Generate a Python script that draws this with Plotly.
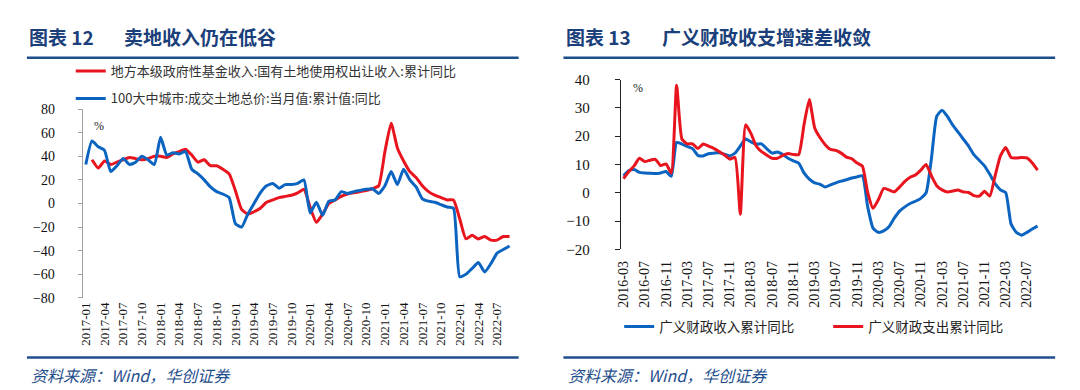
import plotly.graph_objects as go
import pandas as pd

W, H = 1080, 390

# ---------------- data: left chart (monthly, 2017-01 .. 2022-09) ----------------
left_months = [p.strftime("%Y-%m") for p in pd.period_range("2017-01", "2022-09", freq="M")]
left_tick_labels = ["2017-01", "2017-04", "2017-07", "2017-10", "2018-01", "2018-04", "2018-07",
                    "2018-10", "2019-01", "2019-04", "2019-07", "2019-10", "2020-01", "2020-04",
                    "2020-07", "2020-10", "2021-01", "2021-04", "2021-07", "2021-10", "2022-01",
                    "2022-04", "2022-07"]
left_land_revenue = [None, 37, 30, 36, 33, 35, 37, 39, 38, 37,
                     38, 40, 40, 39, 42, 44, 46, 41, 35, 37,
                     32, 32, 29, 25, 11, -5, -9, -7, -4, 1,
                     3, 5, 6, 7, 9, 12, -3, -16, -9, 0,
                     3, 6, 8, 9, 10, 11, 12.5, 15, 44, 68,
                     47, 36, 27, 22, 15, 10, 7, 5, 3, 3,
                     -13, -30, -27, -30, -28, -31, -31, -28, -28]
left_city_land = [33, 53, 48, 45, 27, 32, 38, 33, 35, 40,
                  37, 33, 56, 41, 43, 42, 44, 29, 25, 20,
                  14, 10, 8, 5, -17, -20, -9, 0, 9, 15,
                  17, 13, 16, 16, 17, 20, -8, 1, -10, 2,
                  3, 10, 8.5, 10, 11, 12, 12.5, 8.5, 15, 27,
                  16, 29, 20, 14, 4, 2, 1, -1, -3, -4,
                  -62, -60, -55, -50, -58, -51, -42, -39, -36]

# ---------------- data: right chart (monthly, 2016-03 .. 2022-09) ----------------
right_months = [p.strftime("%Y-%m") for p in pd.period_range("2016-03", "2022-09", freq="M")]
right_tick_labels = ["2016-03", "2016-07", "2016-11", "2017-03", "2017-07", "2017-11", "2018-03",
                     "2018-07", "2018-11", "2019-03", "2019-07", "2019-11", "2020-03", "2020-07",
                     "2020-11", "2021-03", "2021-07", "2021-11", "2022-03", "2022-07"]
right_revenue = [6, 7.8, 8.2, 7.2, 7, 6.9, 6.8, 7, 7.5, 5.8,
                 17.8, 17.2, 16.4, 15.6, 13.2, 13, 13.8, 14, 14.1, 13.6,
                 13, 14, 16.5, 19, 18, 17.2, 17.3, 15.5, 14, 14.4,
                 13.5, 12.2, 11.3, 10.5, 7, 4.8, 3.5, 3, 2, 2.8,
                 3.5, 4.1, 4.6, 5.2, 5.6, 6, -5, -12.5, -14, -13.5,
                 -12, -9, -6.5, -5, -3.8, -3, -2, 0, 12, 27,
                 29.2, 27, 24, 21.5, 19, 16.5, 13.5, 11.5, 9.5, 6.5,
                 3.2, 1, 0, -11, -14, -15, -14, -12.8, -11.8]
right_expenditure = [5, 7.5, 9.5, 12.2, 11, 11.5, 11.8, 9.6, 10.2, 7,
                     38, 19, 17.3, 17.3, 15.6, 17.2, 16.5, 15.7, 14.6, 13.4,
                     11.9, 12.5, -7.6, 24, 21, 16.5, 14.5, 13.3, 12.2, 12.2,
                     13.2, 13.9, 13.5, 13.5, 24, 33, 23, 19.5, 17, 15.3,
                     15, 14, 12.6, 12, 10.5, 9.4, 0, -5.5, -2.5, 1.5,
                     1, 0.3, 2, 4, 5.5, 6.3, 8, 10, 6, 2.5,
                     1, 0.3, 0.6, 1, 0.3, 0.1, -1, -1.2, 0.5, -1.2,
                     6, 13, 16, 12.5, 12.3, 12.5, 12.3, 10.5, 8]

left_names = ["地方本级政府性基金收入:国有土地使用权出让收入:累计同比",
              "100大中城市:成交土地总价:当月值:累计值:同比"]
right_names = ["广义财政收入累计同比", "广义财政支出累计同比"]

RED = "#E8141E"
BLUE = "#0B64C0"
NAVY = "#1B3F7A"
RULE = "#1F4E8C"
CJK = "Noto Sans CJK SC"
SERIF = "Liberation Serif, Times New Roman, serif"


def px_x(p):
    return p / W


def px_y(p):
    return 1 - p / H


lx = list(range(len(left_months)))
rx = list(range(len(right_months)))

fig = go.Figure()
fig.add_trace(go.Scatter(x=lx, y=left_land_revenue, xaxis="x", yaxis="y", mode="lines",
                         name=left_names[0], text=left_months, connectgaps=True,
                         line=dict(color=RED, width=3, shape="spline", smoothing=0.5),
                         legend="legend"))
fig.add_trace(go.Scatter(x=lx, y=left_city_land, xaxis="x", yaxis="y", mode="lines",
                         name=left_names[1], text=left_months,
                         line=dict(color=BLUE, width=3, shape="spline", smoothing=0.5),
                         legend="legend2"))
fig.add_trace(go.Scatter(x=rx, y=right_revenue, xaxis="x2", yaxis="y2", mode="lines",
                         name=right_names[0], text=right_months,
                         line=dict(color=BLUE, width=3, shape="spline", smoothing=0.5),
                         legend="legend3"))
fig.add_trace(go.Scatter(x=rx, y=right_expenditure, xaxis="x2", yaxis="y2", mode="lines",
                         name=right_names[1], text=right_months,
                         line=dict(color=RED, width=3, shape="spline", smoothing=0.5),
                         legend="legend4"))

L_GRAY = "#A0A0A0"
R_DARK = "#222222"

left_dom_x = [px_x(70), px_x(502)]
left_dom_y = [px_y(294), px_y(97)]
right_dom_x = [px_x(610.7), px_x(1032)]
right_dom_y = [px_y(243.3), px_y(66.3)]

axis_common = dict(showgrid=False, zeroline=False)

fig.update_layout(
    width=W, height=H, autosize=False,
    margin=dict(l=0, r=0, t=0, b=0),
    paper_bgcolor="white", plot_bgcolor="white",
    showlegend=True,
    # left chart
    xaxis=dict(domain=left_dom_x, range=[-0.5, len(lx) - 0.5], anchor="y",
               tickmode="array", tickvals=list(range(0, len(lx), 3)), ticktext=left_tick_labels,
               tickangle=-90, ticks="", showline=False, ticklabelstandoff=1,
               tickfont=dict(family=SERIF, size=13, color="#111"), **axis_common),
    yaxis=dict(domain=left_dom_y, range=[-80, 80], anchor="x", dtick=20, tick0=0,
               ticks="outside", ticklen=4, tickcolor=L_GRAY, showline=True, linecolor=L_GRAY,
               linewidth=1, ticklabelstandoff=20,
               tickfont=dict(family=SERIF, size=14, color="#111"), **axis_common),
    xaxis3=dict(overlaying="x", anchor="free", position=px_y(195.5),
                range=[-0.5, len(lx) - 0.5], tickmode="array",
                tickvals=[k - 0.5 for k in range(0, len(lx) + 1, 3)],
                ticks="outside", ticklen=5, tickcolor=L_GRAY, showline=True,
                linecolor=L_GRAY, linewidth=1, showticklabels=False, **axis_common),
    # right chart
    xaxis2=dict(domain=right_dom_x, range=[-0.5, len(rx) - 0.5], anchor="y2",
                tickmode="array", tickvals=list(range(0, len(rx), 4)), ticktext=right_tick_labels,
                tickangle=-90, ticks="", showline=False, ticklabelstandoff=8,
                tickfont=dict(family=SERIF, size=14, color="#111"), **axis_common),
    yaxis2=dict(domain=right_dom_y, range=[-20, 40], anchor="x2", dtick=10, tick0=0,
                ticks="outside", ticklen=5, tickcolor=R_DARK, showline=True, linecolor=R_DARK,
                linewidth=1.3, ticklabelstandoff=22,
                tickfont=dict(family=SERIF, size=15, color="#111"), **axis_common),
    xaxis4=dict(overlaying="x2", anchor="free", position=px_y(184.3),
                range=[-0.5, len(rx) - 0.5], tickmode="array",
                tickvals=[k - 0.5 for k in range(0, len(rx), 4)],
                ticks="outside", ticklen=5, tickcolor=R_DARK, showline=True,
                linecolor=R_DARK, linewidth=1.3, showticklabels=False, **axis_common),
    legend=dict(x=px_x(58), y=px_y(57.5), xanchor="left", yanchor="middle",
                bgcolor="rgba(0,0,0,0)", font=dict(family=CJK, size=13, color="#333")),
    legend2=dict(x=px_x(58), y=px_y(86), xanchor="left", yanchor="middle",
                 bgcolor="rgba(0,0,0,0)", font=dict(family=CJK, size=13, color="#333")),
    legend3=dict(x=px_x(609), y=px_y(324), xanchor="left", yanchor="middle",
                 bgcolor="rgba(0,0,0,0)", font=dict(family=CJK, size=13.5, color="#222")),
    legend4=dict(x=px_x(819), y=px_y(324), xanchor="left", yanchor="middle",
                 bgcolor="rgba(0,0,0,0)", font=dict(family=CJK, size=13.5, color="#222")),
)

annotations = []


def text(x, y, s, size, color, family=CJK, weight="normal", style="normal"):
    annotations.append(dict(x=px_x(x), y=px_y(y), xref="paper", yref="paper", text=s,
                            showarrow=False, xanchor="left", yanchor="middle",
                            font=dict(family=family, size=size, color=color,
                                      weight=weight, style=style)))


# titles
text(14, 21, "图表 12", 19, NAVY, weight="bold")
text(110, 21, "卖地收入仍在低谷", 19, NAVY, weight="bold")
text(554, 21, "图表 13", 19, NAVY, weight="bold")
text(650, 21, "广义财政收支增速差收敛", 19, NAVY, weight="bold")
# units
text(79, 115, "%", 12, "#222", family=SERIF)
text(621, 75, "%", 12, "#222", family=SERIF)
# sources
text(16, 374.5, "资料来源：Wind，华创证券", 16, RULE, style="italic")
text(556, 374.5, "资料来源：Wind，华创证券", 16, RULE, style="italic")

fig.update_layout(annotations=annotations)

shapes = []
for x0, x1, y in [(14, 508, 43.5), (553, 1047, 43.5), (14, 508, 356), (553, 1047, 356)]:
    shapes.append(dict(type="line", xref="paper", yref="paper",
                       x0=px_x(x0), x1=px_x(x1), y0=px_y(y), y1=px_y(y),
                       line=dict(color=RULE, width=2.5)))
fig.update_layout(shapes=shapes)

fig.write_html("out.html")
